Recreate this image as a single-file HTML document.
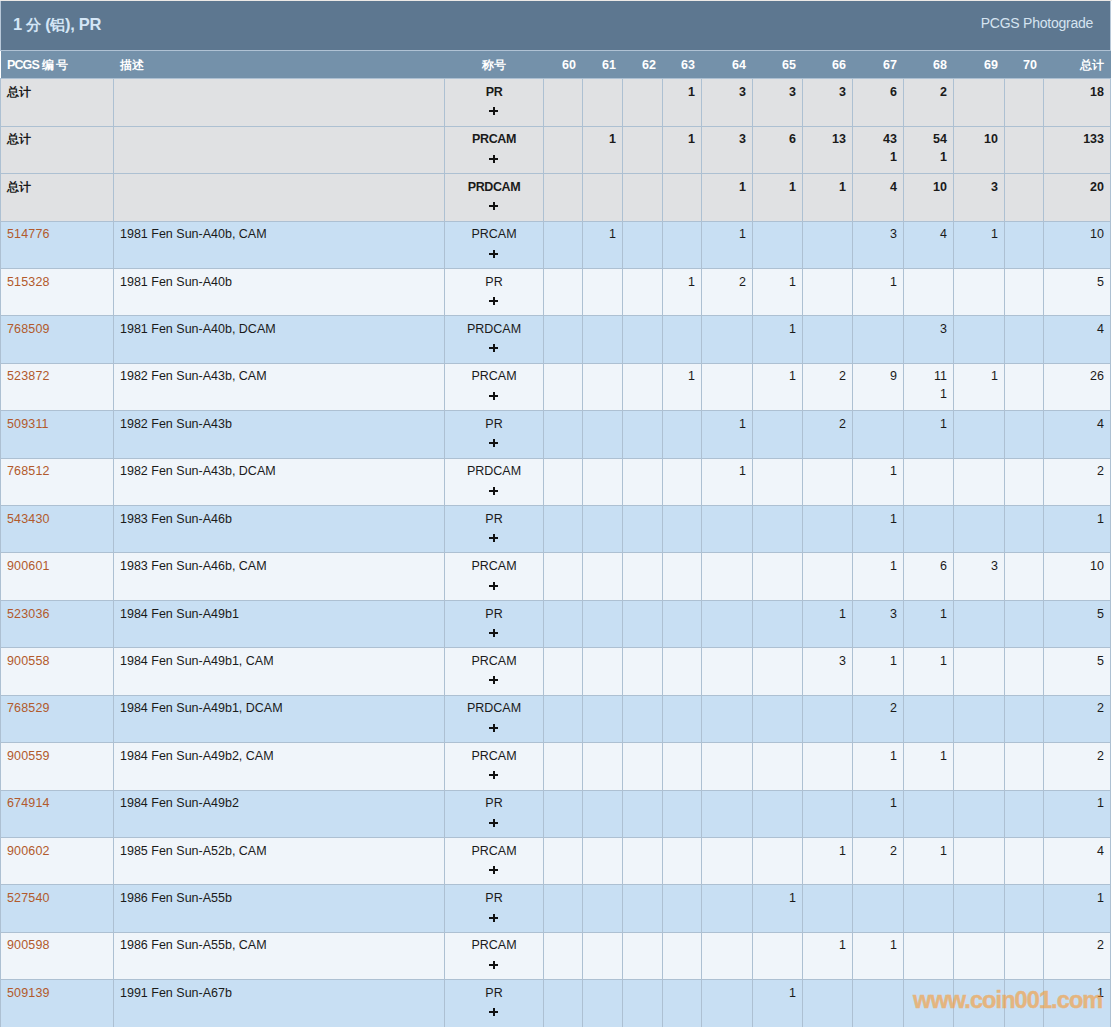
<!DOCTYPE html><html><head><meta charset="utf-8"><style>
html,body{margin:0;padding:0;background:#fff;}
body{width:1112px;height:1027px;overflow:hidden;position:relative;font-family:"Liberation Sans",sans-serif;}
.a{position:absolute;}
.t{position:absolute;white-space:nowrap;line-height:14px;height:14px;font-size:12.5px;color:#1a1a1a;}
.b{font-weight:bold;}
.r{text-align:right;}
.ls{letter-spacing:-0.4px;}
.cj{font-size:11.5px;}
.c{text-align:center;}
.l{color:#b25a2c;letter-spacing:0.15px;}
.hl{position:absolute;left:0;width:1111px;height:1px;background:#adc0d2;}
.vl{position:absolute;width:1px;background:#adc0d2;}
.ph{position:absolute;background:#111;}
</style></head><body>
<div class="a" style="left:0;top:0;width:1112px;height:1px;background:#ece9e6"></div>
<div class="a" style="left:0;top:1px;width:1111px;height:49px;background:#5d7790"></div>
<div class="a" style="left:0;top:1px;width:1px;height:50px;background:#b8c8d8"></div>
<div class="a" style="left:1110px;top:1px;width:1px;height:50px;background:#b8c8d8"></div>
<div class="a" style="left:0;top:50px;width:1111px;height:1px;background:#b0c2d4"></div>
<div class="a" style="left:1px;top:51px;width:1110px;height:27px;background:#7491aa"></div>
<div class="t b" style="left:13px;top:15px;font-size:16.5px;line-height:18px;height:18px;color:#d4e6f6;letter-spacing:-0.3px">1 <span style="font-size:15px">分</span> (<span style="font-size:15px">铝</span>), PR</div>
<div class="t" style="right:19px;top:15px;font-size:14px;line-height:16px;height:16px;letter-spacing:-0.25px;color:#d6e4f0">PCGS Photograde</div>
<div class="t b" style="left:7px;top:58px;color:#fff"><span style="letter-spacing:-0.9px">PCGS</span> <span class="cj" style="letter-spacing:1.5px">编号</span></div>
<div class="t b" style="left:120px;top:58px;color:#fff"><span class="cj">描述</span></div>
<div class="t b c" style="left:445px;width:98px;top:58px;color:#fff"><span class="cj">称号</span></div>
<div class="t b r" style="left:544px;width:32px;top:58px;color:#fff">60</div>
<div class="t b r" style="left:583px;width:33px;top:58px;color:#fff">61</div>
<div class="t b r" style="left:623px;width:33px;top:58px;color:#fff">62</div>
<div class="t b r" style="left:663px;width:32px;top:58px;color:#fff">63</div>
<div class="t b r" style="left:702px;width:44px;top:58px;color:#fff">64</div>
<div class="t b r" style="left:753px;width:43px;top:58px;color:#fff">65</div>
<div class="t b r" style="left:803px;width:43px;top:58px;color:#fff">66</div>
<div class="t b r" style="left:853px;width:44px;top:58px;color:#fff">67</div>
<div class="t b r" style="left:904px;width:43px;top:58px;color:#fff">68</div>
<div class="t b r" style="left:954px;width:44px;top:58px;color:#fff">69</div>
<div class="t b r" style="left:1005px;width:32px;top:58px;color:#fff">70</div>
<div class="t b r" style="left:1044px;width:60px;top:58px;color:#fff"><span class="cj">总计</span></div>
<div class="a" style="left:1px;top:79px;width:1109px;height:47px;background:#e0e1e3"></div>
<div class="a" style="left:1px;top:127px;width:1109px;height:46px;background:#e0e1e3"></div>
<div class="a" style="left:1px;top:174px;width:1109px;height:47px;background:#e0e1e3"></div>
<div class="a" style="left:1px;top:222px;width:1109px;height:46px;background:#c8dff3"></div>
<div class="a" style="left:1px;top:269px;width:1109px;height:46px;background:#f0f5fa"></div>
<div class="a" style="left:1px;top:316px;width:1109px;height:47px;background:#c8dff3"></div>
<div class="a" style="left:1px;top:364px;width:1109px;height:46px;background:#f0f5fa"></div>
<div class="a" style="left:1px;top:411px;width:1109px;height:47px;background:#c8dff3"></div>
<div class="a" style="left:1px;top:459px;width:1109px;height:46px;background:#f0f5fa"></div>
<div class="a" style="left:1px;top:506px;width:1109px;height:46px;background:#c8dff3"></div>
<div class="a" style="left:1px;top:553px;width:1109px;height:47px;background:#f0f5fa"></div>
<div class="a" style="left:1px;top:601px;width:1109px;height:46px;background:#c8dff3"></div>
<div class="a" style="left:1px;top:648px;width:1109px;height:47px;background:#f0f5fa"></div>
<div class="a" style="left:1px;top:696px;width:1109px;height:46px;background:#c8dff3"></div>
<div class="a" style="left:1px;top:743px;width:1109px;height:47px;background:#f0f5fa"></div>
<div class="a" style="left:1px;top:791px;width:1109px;height:46px;background:#c8dff3"></div>
<div class="a" style="left:1px;top:838px;width:1109px;height:46px;background:#f0f5fa"></div>
<div class="a" style="left:1px;top:885px;width:1109px;height:47px;background:#c8dff3"></div>
<div class="a" style="left:1px;top:933px;width:1109px;height:46px;background:#f0f5fa"></div>
<div class="a" style="left:1px;top:980px;width:1109px;height:47px;background:#c8dff3"></div>
<div class="hl" style="top:78px"></div>
<div class="hl" style="top:126px"></div>
<div class="hl" style="top:173px"></div>
<div class="hl" style="top:221px"></div>
<div class="hl" style="top:268px"></div>
<div class="hl" style="top:315px"></div>
<div class="hl" style="top:363px"></div>
<div class="hl" style="top:410px"></div>
<div class="hl" style="top:458px"></div>
<div class="hl" style="top:505px"></div>
<div class="hl" style="top:552px"></div>
<div class="hl" style="top:600px"></div>
<div class="hl" style="top:647px"></div>
<div class="hl" style="top:695px"></div>
<div class="hl" style="top:742px"></div>
<div class="hl" style="top:790px"></div>
<div class="hl" style="top:837px"></div>
<div class="hl" style="top:884px"></div>
<div class="hl" style="top:932px"></div>
<div class="hl" style="top:979px"></div>
<div class="vl" style="left:0px;top:78px;height:949px"></div>
<div class="vl" style="left:113px;top:78px;height:949px"></div>
<div class="vl" style="left:444px;top:78px;height:949px"></div>
<div class="vl" style="left:543px;top:78px;height:949px"></div>
<div class="vl" style="left:582px;top:78px;height:949px"></div>
<div class="vl" style="left:622px;top:78px;height:949px"></div>
<div class="vl" style="left:662px;top:78px;height:949px"></div>
<div class="vl" style="left:701px;top:78px;height:949px"></div>
<div class="vl" style="left:752px;top:78px;height:949px"></div>
<div class="vl" style="left:802px;top:78px;height:949px"></div>
<div class="vl" style="left:852px;top:78px;height:949px"></div>
<div class="vl" style="left:903px;top:78px;height:949px"></div>
<div class="vl" style="left:953px;top:78px;height:949px"></div>
<div class="vl" style="left:1004px;top:78px;height:949px"></div>
<div class="vl" style="left:1043px;top:78px;height:949px"></div>
<div class="vl" style="left:1110px;top:78px;height:949px"></div>
<div class="t b" style="left:7px;top:85px"><span class="cj">总计</span></div>
<div class="t c b ls" style="left:445px;width:98px;top:85px">PR</div>
<div class="ph" style="left:489px;top:110px;width:9px;height:2px"></div>
<div class="ph" style="left:493px;top:107px;width:2px;height:8px"></div>
<div class="t r b" style="left:663px;width:32px;top:85px">1</div>
<div class="t r b" style="left:702px;width:44px;top:85px">3</div>
<div class="t r b" style="left:753px;width:43px;top:85px">3</div>
<div class="t r b" style="left:803px;width:43px;top:85px">3</div>
<div class="t r b" style="left:853px;width:44px;top:85px">6</div>
<div class="t r b" style="left:904px;width:43px;top:85px">2</div>
<div class="t r b" style="left:1044px;width:60px;top:85px">18</div>
<div class="t b" style="left:7px;top:132px"><span class="cj">总计</span></div>
<div class="t c b ls" style="left:445px;width:98px;top:132px">PRCAM</div>
<div class="ph" style="left:489px;top:158px;width:9px;height:2px"></div>
<div class="ph" style="left:493px;top:155px;width:2px;height:8px"></div>
<div class="t r b" style="left:583px;width:33px;top:132px">1</div>
<div class="t r b" style="left:663px;width:32px;top:132px">1</div>
<div class="t r b" style="left:702px;width:44px;top:132px">3</div>
<div class="t r b" style="left:753px;width:43px;top:132px">6</div>
<div class="t r b" style="left:803px;width:43px;top:132px">13</div>
<div class="t r b" style="left:853px;width:44px;top:132px">43</div>
<div class="t r b" style="left:853px;width:44px;top:150px">1</div>
<div class="t r b" style="left:904px;width:43px;top:132px">54</div>
<div class="t r b" style="left:904px;width:43px;top:150px">1</div>
<div class="t r b" style="left:954px;width:44px;top:132px">10</div>
<div class="t r b" style="left:1044px;width:60px;top:132px">133</div>
<div class="t b" style="left:7px;top:180px"><span class="cj">总计</span></div>
<div class="t c b ls" style="left:445px;width:98px;top:180px">PRDCAM</div>
<div class="ph" style="left:489px;top:205px;width:9px;height:2px"></div>
<div class="ph" style="left:493px;top:202px;width:2px;height:8px"></div>
<div class="t r b" style="left:702px;width:44px;top:180px">1</div>
<div class="t r b" style="left:753px;width:43px;top:180px">1</div>
<div class="t r b" style="left:803px;width:43px;top:180px">1</div>
<div class="t r b" style="left:853px;width:44px;top:180px">4</div>
<div class="t r b" style="left:904px;width:43px;top:180px">10</div>
<div class="t r b" style="left:954px;width:44px;top:180px">3</div>
<div class="t r b" style="left:1044px;width:60px;top:180px">20</div>
<div class="t l" style="left:7px;top:227px">514776</div>
<div class="t " style="left:120px;top:227px">1981 Fen Sun-A40b, CAM</div>
<div class="t c " style="left:445px;width:98px;top:227px">PRCAM</div>
<div class="ph" style="left:489px;top:253px;width:9px;height:2px"></div>
<div class="ph" style="left:493px;top:250px;width:2px;height:8px"></div>
<div class="t r " style="left:583px;width:33px;top:227px">1</div>
<div class="t r " style="left:702px;width:44px;top:227px">1</div>
<div class="t r " style="left:853px;width:44px;top:227px">3</div>
<div class="t r " style="left:904px;width:43px;top:227px">4</div>
<div class="t r " style="left:954px;width:44px;top:227px">1</div>
<div class="t r " style="left:1044px;width:60px;top:227px">10</div>
<div class="t l" style="left:7px;top:275px">515328</div>
<div class="t " style="left:120px;top:275px">1981 Fen Sun-A40b</div>
<div class="t c " style="left:445px;width:98px;top:275px">PR</div>
<div class="ph" style="left:489px;top:300px;width:9px;height:2px"></div>
<div class="ph" style="left:493px;top:297px;width:2px;height:8px"></div>
<div class="t r " style="left:663px;width:32px;top:275px">1</div>
<div class="t r " style="left:702px;width:44px;top:275px">2</div>
<div class="t r " style="left:753px;width:43px;top:275px">1</div>
<div class="t r " style="left:853px;width:44px;top:275px">1</div>
<div class="t r " style="left:1044px;width:60px;top:275px">5</div>
<div class="t l" style="left:7px;top:322px">768509</div>
<div class="t " style="left:120px;top:322px">1981 Fen Sun-A40b, DCAM</div>
<div class="t c " style="left:445px;width:98px;top:322px">PRDCAM</div>
<div class="ph" style="left:489px;top:347px;width:9px;height:2px"></div>
<div class="ph" style="left:493px;top:344px;width:2px;height:8px"></div>
<div class="t r " style="left:753px;width:43px;top:322px">1</div>
<div class="t r " style="left:904px;width:43px;top:322px">3</div>
<div class="t r " style="left:1044px;width:60px;top:322px">4</div>
<div class="t l" style="left:7px;top:369px">523872</div>
<div class="t " style="left:120px;top:369px">1982 Fen Sun-A43b, CAM</div>
<div class="t c " style="left:445px;width:98px;top:369px">PRCAM</div>
<div class="ph" style="left:489px;top:395px;width:9px;height:2px"></div>
<div class="ph" style="left:493px;top:392px;width:2px;height:8px"></div>
<div class="t r " style="left:663px;width:32px;top:369px">1</div>
<div class="t r " style="left:753px;width:43px;top:369px">1</div>
<div class="t r " style="left:803px;width:43px;top:369px">2</div>
<div class="t r " style="left:853px;width:44px;top:369px">9</div>
<div class="t r " style="left:904px;width:43px;top:369px">11</div>
<div class="t r " style="left:904px;width:43px;top:387px">1</div>
<div class="t r " style="left:954px;width:44px;top:369px">1</div>
<div class="t r " style="left:1044px;width:60px;top:369px">26</div>
<div class="t l" style="left:7px;top:417px">509311</div>
<div class="t " style="left:120px;top:417px">1982 Fen Sun-A43b</div>
<div class="t c " style="left:445px;width:98px;top:417px">PR</div>
<div class="ph" style="left:489px;top:442px;width:9px;height:2px"></div>
<div class="ph" style="left:493px;top:439px;width:2px;height:8px"></div>
<div class="t r " style="left:702px;width:44px;top:417px">1</div>
<div class="t r " style="left:803px;width:43px;top:417px">2</div>
<div class="t r " style="left:904px;width:43px;top:417px">1</div>
<div class="t r " style="left:1044px;width:60px;top:417px">4</div>
<div class="t l" style="left:7px;top:464px">768512</div>
<div class="t " style="left:120px;top:464px">1982 Fen Sun-A43b, DCAM</div>
<div class="t c " style="left:445px;width:98px;top:464px">PRDCAM</div>
<div class="ph" style="left:489px;top:490px;width:9px;height:2px"></div>
<div class="ph" style="left:493px;top:487px;width:2px;height:8px"></div>
<div class="t r " style="left:702px;width:44px;top:464px">1</div>
<div class="t r " style="left:853px;width:44px;top:464px">1</div>
<div class="t r " style="left:1044px;width:60px;top:464px">2</div>
<div class="t l" style="left:7px;top:512px">543430</div>
<div class="t " style="left:120px;top:512px">1983 Fen Sun-A46b</div>
<div class="t c " style="left:445px;width:98px;top:512px">PR</div>
<div class="ph" style="left:489px;top:537px;width:9px;height:2px"></div>
<div class="ph" style="left:493px;top:534px;width:2px;height:8px"></div>
<div class="t r " style="left:853px;width:44px;top:512px">1</div>
<div class="t r " style="left:1044px;width:60px;top:512px">1</div>
<div class="t l" style="left:7px;top:559px">900601</div>
<div class="t " style="left:120px;top:559px">1983 Fen Sun-A46b, CAM</div>
<div class="t c " style="left:445px;width:98px;top:559px">PRCAM</div>
<div class="ph" style="left:489px;top:585px;width:9px;height:2px"></div>
<div class="ph" style="left:493px;top:582px;width:2px;height:8px"></div>
<div class="t r " style="left:853px;width:44px;top:559px">1</div>
<div class="t r " style="left:904px;width:43px;top:559px">6</div>
<div class="t r " style="left:954px;width:44px;top:559px">3</div>
<div class="t r " style="left:1044px;width:60px;top:559px">10</div>
<div class="t l" style="left:7px;top:607px">523036</div>
<div class="t " style="left:120px;top:607px">1984 Fen Sun-A49b1</div>
<div class="t c " style="left:445px;width:98px;top:607px">PR</div>
<div class="ph" style="left:489px;top:632px;width:9px;height:2px"></div>
<div class="ph" style="left:493px;top:629px;width:2px;height:8px"></div>
<div class="t r " style="left:803px;width:43px;top:607px">1</div>
<div class="t r " style="left:853px;width:44px;top:607px">3</div>
<div class="t r " style="left:904px;width:43px;top:607px">1</div>
<div class="t r " style="left:1044px;width:60px;top:607px">5</div>
<div class="t l" style="left:7px;top:654px">900558</div>
<div class="t " style="left:120px;top:654px">1984 Fen Sun-A49b1, CAM</div>
<div class="t c " style="left:445px;width:98px;top:654px">PRCAM</div>
<div class="ph" style="left:489px;top:679px;width:9px;height:2px"></div>
<div class="ph" style="left:493px;top:676px;width:2px;height:8px"></div>
<div class="t r " style="left:803px;width:43px;top:654px">3</div>
<div class="t r " style="left:853px;width:44px;top:654px">1</div>
<div class="t r " style="left:904px;width:43px;top:654px">1</div>
<div class="t r " style="left:1044px;width:60px;top:654px">5</div>
<div class="t l" style="left:7px;top:701px">768529</div>
<div class="t " style="left:120px;top:701px">1984 Fen Sun-A49b1, DCAM</div>
<div class="t c " style="left:445px;width:98px;top:701px">PRDCAM</div>
<div class="ph" style="left:489px;top:727px;width:9px;height:2px"></div>
<div class="ph" style="left:493px;top:724px;width:2px;height:8px"></div>
<div class="t r " style="left:853px;width:44px;top:701px">2</div>
<div class="t r " style="left:1044px;width:60px;top:701px">2</div>
<div class="t l" style="left:7px;top:749px">900559</div>
<div class="t " style="left:120px;top:749px">1984 Fen Sun-A49b2, CAM</div>
<div class="t c " style="left:445px;width:98px;top:749px">PRCAM</div>
<div class="ph" style="left:489px;top:774px;width:9px;height:2px"></div>
<div class="ph" style="left:493px;top:771px;width:2px;height:8px"></div>
<div class="t r " style="left:853px;width:44px;top:749px">1</div>
<div class="t r " style="left:904px;width:43px;top:749px">1</div>
<div class="t r " style="left:1044px;width:60px;top:749px">2</div>
<div class="t l" style="left:7px;top:796px">674914</div>
<div class="t " style="left:120px;top:796px">1984 Fen Sun-A49b2</div>
<div class="t c " style="left:445px;width:98px;top:796px">PR</div>
<div class="ph" style="left:489px;top:822px;width:9px;height:2px"></div>
<div class="ph" style="left:493px;top:819px;width:2px;height:8px"></div>
<div class="t r " style="left:853px;width:44px;top:796px">1</div>
<div class="t r " style="left:1044px;width:60px;top:796px">1</div>
<div class="t l" style="left:7px;top:844px">900602</div>
<div class="t " style="left:120px;top:844px">1985 Fen Sun-A52b, CAM</div>
<div class="t c " style="left:445px;width:98px;top:844px">PRCAM</div>
<div class="ph" style="left:489px;top:869px;width:9px;height:2px"></div>
<div class="ph" style="left:493px;top:866px;width:2px;height:8px"></div>
<div class="t r " style="left:803px;width:43px;top:844px">1</div>
<div class="t r " style="left:853px;width:44px;top:844px">2</div>
<div class="t r " style="left:904px;width:43px;top:844px">1</div>
<div class="t r " style="left:1044px;width:60px;top:844px">4</div>
<div class="t l" style="left:7px;top:891px">527540</div>
<div class="t " style="left:120px;top:891px">1986 Fen Sun-A55b</div>
<div class="t c " style="left:445px;width:98px;top:891px">PR</div>
<div class="ph" style="left:489px;top:917px;width:9px;height:2px"></div>
<div class="ph" style="left:493px;top:914px;width:2px;height:8px"></div>
<div class="t r " style="left:753px;width:43px;top:891px">1</div>
<div class="t r " style="left:1044px;width:60px;top:891px">1</div>
<div class="t l" style="left:7px;top:938px">900598</div>
<div class="t " style="left:120px;top:938px">1986 Fen Sun-A55b, CAM</div>
<div class="t c " style="left:445px;width:98px;top:938px">PRCAM</div>
<div class="ph" style="left:489px;top:964px;width:9px;height:2px"></div>
<div class="ph" style="left:493px;top:961px;width:2px;height:8px"></div>
<div class="t r " style="left:803px;width:43px;top:938px">1</div>
<div class="t r " style="left:853px;width:44px;top:938px">1</div>
<div class="t r " style="left:1044px;width:60px;top:938px">2</div>
<div class="t l" style="left:7px;top:986px">509139</div>
<div class="t " style="left:120px;top:986px">1991 Fen Sun-A67b</div>
<div class="t c " style="left:445px;width:98px;top:986px">PR</div>
<div class="ph" style="left:489px;top:1011px;width:9px;height:2px"></div>
<div class="ph" style="left:493px;top:1008px;width:2px;height:8px"></div>
<div class="t r " style="left:753px;width:43px;top:986px">1</div>
<div class="t r " style="left:1044px;width:60px;top:986px">1</div>
<div class="t b" style="left:913px;top:987px;font-size:23.5px;line-height:26px;height:26px;color:#f89a33;-webkit-text-stroke:0.5px #f89a33;letter-spacing:-0.9px;opacity:0.6">www.coin001.com</div>
</body></html>
